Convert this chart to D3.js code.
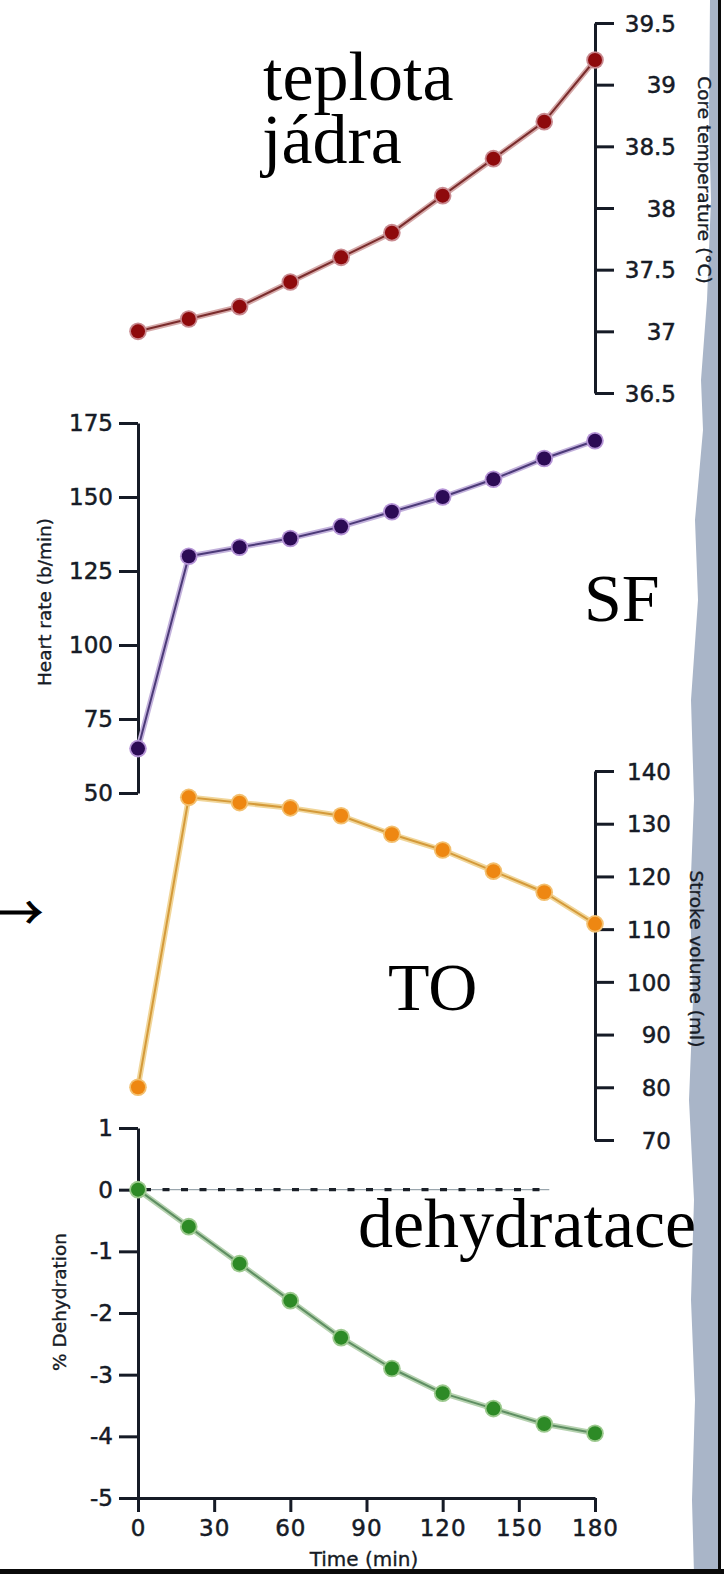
<!DOCTYPE html>
<html>
<head>
<meta charset="utf-8">
<script src="https://cdn.jsdelivr.net/npm/d3@7"></script>
<style>
  html, body { margin: 0; padding: 0; background: #ffffff; }
  svg { display: block; }
</style>
</head>
<body>
<svg id="chart" width="724" height="1574"></svg>
<script>
// ---- data ----
const times = [0, 20, 40, 60, 80, 100, 120, 140, 160, 180];
const coreTemp = [37.0, 37.1, 37.2, 37.4, 37.6, 37.8, 38.1, 38.4, 38.7, 39.2];
const heartRate = [65, 130, 133, 136, 140, 145, 150, 156, 163, 169];
const strokeVolume = [80, 135, 134, 133, 131.5, 128, 125, 121, 117, 111];
const dehydration = [0, -0.6, -1.2, -1.8, -2.4, -2.9, -3.3, -3.55, -3.8, -3.95];

const timeTicks = [0, 30, 60, 90, 120, 150, 180];
const tempTicks = [36.5, 37, 37.5, 38, 38.5, 39, 39.5];
const hrTicks = [50, 75, 100, 125, 150, 175];
const svTicks = [70, 80, 90, 100, 110, 120, 130, 140];
const dehydTicks = [-5, -4, -3, -2, -1, 0, 1];
const baselineEnd = 162;

const svg = d3.select("#chart");
const ink = "#161b26";

// ---- paper edge decoration ----
svg.append("path")
  .attr("d", "M710,0 L709,120 L711,200 L707,300 L701,380 L703,430 L695,520 L698,600 L691,700 L694,800 L690,900 L693,1000 L689,1100 L694,1200 L691,1300 L695,1400 L692,1500 L694,1574 L718,1574 L718,0 Z")
  .attr("fill", "#a9b5c8");
svg.append("rect").attr("x", 718).attr("y", 0).attr("width", 3).attr("height", 1574).attr("fill", "#0a0a0a");
svg.append("rect").attr("x", 0).attr("y", 1569).attr("width", 724).attr("height", 5).attr("fill", "#0a0a0a");

// ---- scales ----
const x = d3.scaleLinear().domain([0, 180]).range([138, 595]);
const yT = d3.scaleLinear().domain([36.5, 39.5]).range([393, 23]);
const yH = d3.scaleLinear().domain([50, 175]).range([793, 423]);
const yS = d3.scaleLinear().domain([70, 140]).range([1140, 771]);
const yD = d3.scaleLinear().domain([-5, 1]).range([1498, 1128]);

function styleAxis(g) {
  g.selectAll("path.domain").attr("stroke", ink).attr("stroke-width", 3);
  g.selectAll(".tick line").attr("stroke", ink).attr("stroke-width", 3);
  g.selectAll(".tick text")
    .attr("fill", ink)
    .attr("stroke", ink).attr("stroke-width", 0.5)
    .style("font-family", "'DejaVu Sans', sans-serif")
    .style("font-size", "23px");
}

// Core temperature axis (right)
const gT = svg.append("g").attr("transform", `translate(${x(180)},0)`)
  .call(d3.axisRight(yT).tickValues(tempTicks).tickSize(19).tickSizeOuter(0).tickFormat(d => String(d)));
styleAxis(gT);
gT.selectAll(".tick text").attr("text-anchor", "end").attr("x", 81).attr("dy", "0.36em");

// Heart rate axis (left)
const gH = svg.append("g").attr("transform", `translate(${x(0)},0)`)
  .call(d3.axisLeft(yH).tickValues(hrTicks).tickSize(19).tickPadding(6).tickSizeOuter(0).tickFormat(d => String(d)));
styleAxis(gH);

// Stroke volume axis (right)
const gS = svg.append("g").attr("transform", `translate(${x(180)},0)`)
  .call(d3.axisRight(yS).tickValues(svTicks).tickSize(19).tickSizeOuter(0).tickFormat(d => String(d)));
styleAxis(gS);
gS.selectAll(".tick text").attr("text-anchor", "end").attr("x", 76).attr("dy", "0.36em");

// Dehydration axis (left)
const gD = svg.append("g").attr("transform", `translate(${x(0)},0)`)
  .call(d3.axisLeft(yD).tickValues(dehydTicks).tickSize(19).tickPadding(6).tickSizeOuter(0).tickFormat(d => String(d)));
styleAxis(gD);

// Time axis (bottom)
const gX = svg.append("g").attr("transform", `translate(0,${yD(-5)})`)
  .call(d3.axisBottom(x).tickValues(timeTicks).tickSize(14).tickSizeOuter(0).tickFormat(d => String(d)));
styleAxis(gX);
gX.selectAll(".tick text").attr("y", 38).attr("dy", 0).attr("letter-spacing", "1px");

// zero reference line
svg.append("line")
  .attr("x1", x(0)).attr("x2", x(baselineEnd))
  .attr("y1", yD(0)).attr("y2", yD(0))
  .attr("stroke", "#9aa6ad").attr("stroke-width", 1.2);
svg.append("line")
  .attr("x1", x(0) + 6).attr("x2", x(baselineEnd))
  .attr("y1", yD(0)).attr("y2", yD(0))
  .attr("stroke", "#1b2028").attr("stroke-width", 3.2)
  .attr("stroke-dasharray", "7,11.5");

// ---- series ----
function drawSeries(values, yScale, lineColor, haloColor, dotColor, dotHalo) {
  const pts = times.map((t, i) => [t, values[i]]);
  const line = d3.line().x(d => x(d[0])).y(d => yScale(d[1]));
  svg.append("path").datum(pts).attr("d", line)
    .attr("fill", "none").attr("stroke", haloColor).attr("stroke-width", 5.5)
    .attr("stroke-linejoin", "round");
  svg.append("path").datum(pts).attr("d", line)
    .attr("fill", "none").attr("stroke", lineColor).attr("stroke-width", 2)
    .attr("stroke-linejoin", "round");
  svg.append("g").selectAll("circle.h").data(pts).join("circle")
    .attr("cx", d => x(d[0])).attr("cy", d => yScale(d[1])).attr("r", 8.8)
    .attr("fill", dotHalo);
  svg.append("g").selectAll("circle.c").data(pts).join("circle")
    .attr("cx", d => x(d[0])).attr("cy", d => yScale(d[1])).attr("r", 7)
    .attr("fill", dotColor);
}

drawSeries(coreTemp, yT, "#7a2c2c", "#d6aaaa", "#8e0a0c", "#c98a90");
drawSeries(heartRate, yH, "#4c3a78", "#c3b2dc", "#2c0b55", "#b594d6");
drawSeries(strokeVolume, yS, "#d49a3a", "#f1d69a", "#ee8712", "#f3c070");
drawSeries(dehydration, yD, "#5e8e62", "#b6d2b0", "#2d8a26", "#9cc98e");

// ---- axis titles ----
const titleFont = "'DejaVu Sans', sans-serif";
function title(text, tx, ty, rot, size) {
  svg.append("text")
    .attr("transform", `translate(${tx},${ty}) rotate(${rot})`)
    .attr("text-anchor", "middle")
    .attr("fill", ink)
    .attr("stroke", ink).attr("stroke-width", 0.35)
    .style("font-family", titleFont)
    .style("font-size", size + "px")
    .text(text);
}
title("Core temperature (°C)", 698, 180, 90, 18.5);
title("Heart rate (b/min)", 51, 602, -90, 18.5);
title("Stroke volume (ml)", 690, 959, 90, 18.5);
title("% Dehydration", 66, 1302, -90, 18.5);
title("Time (min)", 364, 1566, 0, 20);

// ---- annotations ----
const serif = "'Liberation Serif', 'Times New Roman', serif";
function note(text, tx, ty, size, fam) {
  return svg.append("text")
    .attr("x", tx).attr("y", ty)
    .attr("fill", "#000")
    .style("font-family", fam || serif)
    .style("font-size", size + "px")
    .text(text);
}
note("teplota", 263, 100, 70);
note("jádra", 262, 163, 70);
note("SF", 584, 621, 68);
note("TO", 388, 1010, 68);
note("dehydratace", 358, 1247, 70);
note("→", -3, 929, 46, "'Noto Sans CJK JP', sans-serif")
  .attr("stroke", "#000").attr("stroke-width", 1);
</script>
</body>
</html>
